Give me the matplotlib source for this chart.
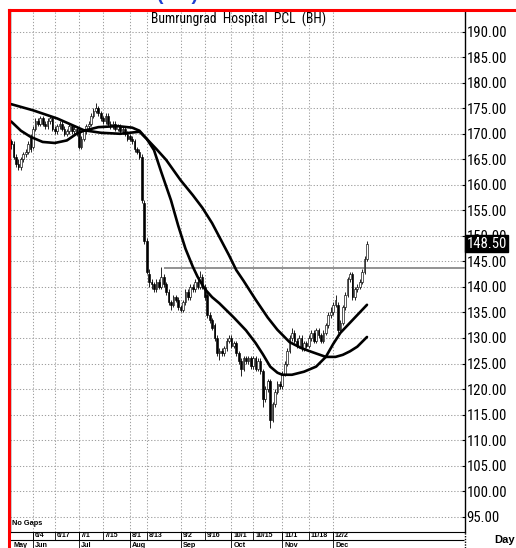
import numpy as np
import pandas as pd
import matplotlib
matplotlib.use('Agg')
import matplotlib.pyplot as plt
from matplotlib import font_manager as fm
from matplotlib.lines import Line2D
import matplotlib.transforms as mtransforms

# ---------------- fonts: look for a narrow sans face ----------------
def _find_narrow():
    prio = ['liberation sans narrow', 'arial narrow', 'roboto condensed',
            'open sans condensed', 'noto sans condensed', 'dejavu sans condensed',
            'dejavu sans']
    found = []
    for f in fm.fontManager.ttflist:
        fn = f.fname.lower()
        nm = f.name.lower()
        if not ('narrow' in fn or 'condensed' in fn or 'narrow' in nm or 'condensed' in nm):
            continue
        if 'mono' in nm or 'serif' in nm.split():
            continue
        if f.style != 'normal' or 'italic' in fn or 'oblique' in fn:
            continue
        w = f.weight if isinstance(f.weight, int) else (700 if 'bold' in str(f.weight) else 400)
        if w != 400 or 'bold' in fn or 'light' in fn or 'medium' in fn or 'semi' in fn.split('/')[-1]:
            continue
        rank = next((i for i, p in enumerate(prio) if p in nm or p.replace(' ', '') in fn.replace('-', '').replace('_', '')), len(prio))
        found.append((rank, f.fname))
    found.sort()
    return found[0][1] if found else None

NARROW_PATH = _find_narrow()
HAS_NARROW = NARROW_PATH is not None

def fprop(size):
    if HAS_NARROW:
        return fm.FontProperties(fname=NARROW_PATH, size=size)
    return fm.FontProperties(family='Liberation Sans', size=size)

# ---------------- data ----------------
title = "Bumrungrad  Hospital  PCL  (BH)"
start_date, end_date = '2019-05-21', '2019-12-24'
holidays = ['2019-06-03', '2019-07-16', '2019-07-29', '2019-08-12',
            '2019-10-14', '2019-10-23', '2019-12-05', '2019-12-10']

tick_dates = ['2019-06-04', '2019-06-17', '2019-07-01', '2019-07-15', '2019-08-01',
              '2019-08-13', '2019-09-02', '2019-09-16', '2019-10-01', '2019-10-15',
              '2019-11-01', '2019-11-18', '2019-12-02']
tick_labels = ['6/4', '6/17', '7/1', '7/15', '8/1', '8/13', '9/2', '9/16',
               '10/1', '10/15', '11/1', '11/18', '12/2']
month_dates = ['2019-05-21', '2019-06-04', '2019-07-01', '2019-08-01',
               '2019-09-02', '2019-10-01', '2019-11-01', '2019-12-02']
month_labels = ['May', 'Jun', 'Jul', 'Aug', 'Sep', 'Oct', 'Nov', 'Dec']

opens = [168.5, 168.0, 165.5, 164.0, 163.5, 165.0, 166.0, 166.5, 169.5, 167.5,
         171.0, 172.5, 172.0, 173.0, 172.0, 171.5, 172.5, 173.0, 171.0, 170.5,
         171.5, 172.0, 171.0, 170.0, 170.5, 171.5, 170.5, 171.0, 171.0, 167.5,
         169.0, 170.5, 171.5, 172.0, 173.5, 174.5, 175.0, 174.0, 173.0, 172.5,
         173.5, 172.0, 171.5, 172.0, 171.0, 171.5, 170.5, 171.0, 170.0, 169.5,
         169.0, 168.5, 167.0, 166.5, 165.5, 156.5, 149.0, 142.5, 141.0, 140.5,
         139.5, 141.0, 140.0, 142.0, 140.5, 139.0, 137.0, 136.5, 138.0, 137.5,
         136.0, 135.5, 137.0, 139.0, 138.0, 140.0, 139.5, 141.0, 140.0, 142.0,
         140.0, 138.5, 134.5, 133.5, 132.5, 130.0, 127.0, 127.5, 127.0, 128.0,
         129.5, 130.0, 128.5, 129.0, 127.0, 125.5, 124.0, 126.0, 125.5, 126.0,
         124.5, 126.0, 124.0, 125.5, 123.5, 118.0, 120.0, 121.5, 114.0, 117.0,
         119.5, 121.0, 120.5, 123.0, 125.0, 127.5, 130.0, 131.0, 129.5, 128.5,
         130.0, 128.0, 129.0, 128.5, 130.0, 131.0, 129.5, 131.5, 130.5, 129.5,
         131.0, 132.5, 134.5, 135.0, 136.5, 136.5, 131.5, 133.0, 136.0, 138.5,
         141.5, 142.5, 138.0, 139.5, 140.0, 141.0, 143.0, 145.5]
highs = [169.0, 168.5, 166.0, 165.0, 165.5, 166.5, 167.0, 168.5, 170.0, 171.5,
         173.0, 173.0, 173.5, 173.5, 172.5, 173.0, 173.5, 173.5, 171.5, 172.0,
         172.5, 172.5, 171.5, 171.0, 172.0, 172.0, 171.5, 171.5, 171.5, 169.5,
         171.0, 172.0, 172.5, 174.0, 175.0, 176.0, 175.5, 174.5, 173.5, 174.0,
         174.0, 172.5, 172.5, 172.5, 172.0, 172.0, 171.5, 171.5, 170.5, 170.0,
         169.5, 169.0, 167.5, 167.0, 166.0, 157.0, 149.5, 143.5, 141.5, 141.0,
         141.5, 141.5, 143.9, 142.5, 141.0, 139.5, 137.5, 138.5, 138.5, 138.0,
         136.5, 137.5, 139.5, 139.5, 140.5, 140.5, 141.5, 141.5, 143.2, 142.5,
         140.5, 139.0, 135.0, 134.0, 133.0, 130.5, 128.0, 128.0, 128.5, 130.0,
         130.5, 130.5, 129.5, 129.5, 127.5, 126.0, 126.5, 126.5, 126.5, 126.5,
         126.5, 126.5, 126.0, 126.0, 124.0, 120.5, 122.0, 122.0, 117.5, 120.0,
         121.5, 121.5, 123.5, 125.5, 128.0, 130.5, 132.0, 131.5, 130.0, 130.5,
         130.5, 129.5, 129.5, 130.5, 131.5, 131.5, 132.0, 132.0, 131.0, 131.5,
         133.0, 135.0, 136.0, 137.0, 138.5, 137.0, 133.5, 136.5, 139.0, 142.0,
         143.0, 143.0, 140.0, 140.5, 141.5, 143.5, 146.0, 149.0]
lows = [167.0, 165.0, 163.5, 163.0, 163.0, 164.5, 165.5, 166.0, 166.5, 167.0,
        170.5, 171.5, 171.5, 171.5, 171.0, 171.0, 172.0, 170.5, 170.0, 170.0,
        171.0, 170.5, 169.5, 169.5, 170.0, 170.0, 170.0, 169.5, 167.0, 167.0,
        168.5, 170.0, 171.0, 171.5, 173.0, 174.0, 173.5, 172.5, 172.0, 172.0,
        171.5, 171.0, 171.0, 170.5, 170.5, 170.0, 170.0, 169.5, 168.5, 168.5,
        168.0, 166.5, 166.0, 165.0, 156.5, 148.5, 142.5, 140.0, 139.5, 139.0,
        139.0, 139.5, 139.5, 140.0, 138.5, 136.5, 135.5, 136.0, 137.0, 135.5,
        135.0, 135.0, 136.5, 137.5, 137.5, 139.0, 139.0, 139.5, 139.5, 139.5,
        137.5, 134.0, 133.0, 131.5, 129.5, 126.5, 125.7, 126.5, 126.5, 127.5,
        129.0, 128.0, 128.0, 126.5, 125.0, 122.5, 123.5, 125.0, 125.0, 124.0,
        124.0, 123.5, 123.5, 123.0, 116.5, 117.5, 119.5, 112.3, 113.5, 116.5,
        119.0, 120.0, 120.0, 122.5, 124.5, 127.0, 129.5, 129.0, 128.0, 128.0,
        127.5, 127.5, 128.0, 128.0, 129.5, 129.0, 129.0, 130.0, 129.0, 129.0,
        130.5, 132.0, 134.0, 134.5, 136.0, 131.0, 131.0, 132.5, 135.5, 138.0,
        141.0, 137.5, 137.5, 139.0, 139.5, 140.5, 142.5, 145.0]
closes = [168.0, 165.5, 164.0, 163.5, 165.0, 166.0, 166.5, 168.0, 167.0, 171.0,
          172.5, 172.0, 173.0, 172.0, 171.5, 172.5, 173.0, 171.0, 170.5, 171.5,
          172.0, 171.0, 170.0, 170.5, 171.5, 170.5, 171.0, 170.0, 167.5, 169.0,
          170.5, 171.5, 172.0, 173.5, 174.5, 175.0, 174.0, 173.0, 172.5, 173.5,
          172.0, 171.5, 172.0, 171.0, 171.5, 170.5, 171.0, 170.0, 169.0, 169.0,
          168.5, 167.0, 166.5, 165.5, 157.0, 149.0, 143.0, 141.0, 140.5, 139.5,
          141.0, 140.0, 142.0, 140.5, 139.0, 137.0, 136.5, 138.0, 137.5, 136.0,
          135.5, 137.0, 139.0, 138.0, 140.0, 139.5, 141.0, 140.0, 142.0, 140.0,
          138.0, 134.5, 133.5, 132.0, 130.0, 127.0, 127.5, 127.0, 128.0, 129.5,
          130.0, 128.5, 129.0, 127.0, 125.5, 124.0, 126.0, 125.5, 126.0, 124.5,
          126.0, 124.0, 125.5, 123.5, 118.0, 120.0, 121.5, 114.0, 117.0, 119.5,
          121.0, 120.5, 123.0, 125.0, 127.5, 130.0, 131.0, 129.5, 128.5, 130.0,
          128.0, 129.0, 128.5, 130.0, 131.0, 129.5, 131.5, 130.5, 129.5, 131.0,
          132.5, 134.5, 135.0, 136.5, 137.5, 131.5, 133.0, 136.0, 138.5, 141.5,
          142.5, 138.0, 139.5, 140.0, 141.0, 143.0, 145.5, 148.5]

# moving averages read at selected bars (bar index, value)
ma_fast_idx = [0, 4, 8, 13, 18, 23, 27, 30, 36, 44, 50, 53, 56, 59, 62, 66, 69, 72,
               75, 77, 80, 83, 86, 92, 97, 101, 104, 107, 110, 112, 116, 121, 126,
               130, 133, 136, 141, 144, 147]
ma_fast_val = [172.4, 170.6, 169.4, 168.4, 168.2, 168.7, 170.0, 170.6, 171.3, 171.5,
               171.2, 170.6, 169.0, 166.8, 162.5, 157.0, 152.0, 147.5, 144.0, 142.0,
               139.6, 138.0, 136.8, 134.0, 131.5, 129.0, 126.8, 124.4, 123.2, 122.8,
               122.8, 123.4, 124.4, 126.3, 128.8, 131.0, 133.5, 135.0, 136.5]
ma_slow_idx = [0, 9, 19, 30, 37, 45, 53, 56, 60, 64, 70, 75, 79, 83, 86, 90, 93, 96,
               101, 106, 110, 115, 120, 124, 130, 134, 137, 140, 143, 147]
ma_slow_val = [175.8, 174.6, 173.0, 170.7, 170.2, 170.0, 170.4, 169.0, 167.0, 164.9,
               160.9, 158.0, 155.5, 152.5, 149.8, 146.2, 143.3, 141.2, 137.5, 134.0,
               131.6, 129.2, 128.0, 127.3, 126.3, 126.3, 126.7, 127.4, 128.3, 130.2]

hline_level = 143.8
hline_start_date = '2019-08-22'
last_price = 148.50
y_ticks = list(range(95, 191, 5))

# ---------------- build ----------------
dates = pd.bdate_range(start_date, end_date)
dates = dates[~dates.isin(pd.to_datetime(holidays))]
x = np.arange(len(dates))
tick_pos = dates.get_indexer(pd.to_datetime(tick_dates))
month_pos = dates.get_indexer(pd.to_datetime(month_dates))
hline_start = dates.get_indexer(pd.to_datetime([hline_start_date]))[0]

W, H = 516, 548
fig = plt.figure(figsize=(W / 100, H / 100), dpi=100)
L_px, R_px, T_px, B_px = 10, 465, 11, 532
ax = fig.add_axes([L_px / W, 1 - B_px / H, (R_px - L_px) / W, (B_px - T_px) / H])
ax.set_xlim(-0.5, 187.5)
ax.set_ylim(92.0, 194.05)

# grid
grid_kw = dict(color='#a0a0a0', linewidth=0.75, linestyle=(0, (1.2, 1.8)))
ax.set_xticks(tick_pos)
ax.set_yticks(y_ticks)
ax.grid(True, **grid_kw)
ax.set_axisbelow(True)
ax.tick_params(axis='x', length=0, labelbottom=False)
ax.yaxis.tick_right()
ytick_size = 10.6 if HAS_NARROW else 8.6
ax.tick_params(axis='y', direction='in', length=2, pad=1.2,
               colors='black', labelleft=False, labelright=True)
ax.set_yticklabels([f"{v:.2f}" for v in y_ticks])
for lab in ax.get_yticklabels():
    lab.set_fontproperties(fprop(ytick_size))

ax.spines['top'].set_visible(False)
ax.spines['right'].set_linestyle((0, (1, 1)))
ax.spines['right'].set_linewidth(1.0)
ax.spines['left'].set_linestyle((0, (1, 1)))
ax.spines['left'].set_linewidth(1.0)
ax.spines['bottom'].set_linewidth(0.8)

# candlesticks
o = np.array(opens); c = np.array(closes); hi = np.array(highs); lo = np.array(lows)
up = c >= o
ax.vlines(x, lo, hi, color='black', linewidth=0.6, zorder=3)
body_lo = np.minimum(o, c)
body_h = np.maximum(np.abs(c - o), 0.15)
ax.bar(x[up], body_h[up], bottom=body_lo[up], width=0.7, facecolor='white',
       edgecolor='black', linewidth=0.45, zorder=4)
ax.bar(x[~up], body_h[~up], bottom=body_lo[~up], width=0.7, facecolor='black',
       edgecolor='black', linewidth=0.45, zorder=4)

# moving averages
ax.plot(ma_slow_idx, ma_slow_val, color='black', linewidth=1.9, zorder=5,
        solid_capstyle='round', solid_joinstyle='round')
ax.plot(ma_fast_idx, ma_fast_val, color='black', linewidth=1.9, zorder=5,
        solid_capstyle='round', solid_joinstyle='round')

# horizontal level line
ax.hlines(hline_level, hline_start, 187.3, color='#8a8a8a', linewidth=1.3, zorder=2.6)

# title
ax.text(0.503, 0.998, title, transform=ax.transAxes, ha='center', va='top',
        fontproperties=fprop(9.8 if HAS_NARROW else 9), zorder=6)

# last price box
trans = mtransforms.blended_transform_factory(ax.transAxes, ax.transData)
ax.text(1.003, last_price, f"{last_price:.2f}", transform=trans, ha='left', va='center',
        fontproperties=fprop(ytick_size), color='white', clip_on=False, zorder=20,
        bbox=dict(boxstyle='square,pad=0.1', facecolor='black', edgecolor='black'))

# No Gaps
ax.text(0.005, 0.01, "No Gaps", transform=ax.transAxes, ha='left', va='bottom',
        fontsize=5.3, fontweight='bold', family='Liberation Sans', zorder=6)

# date strip axis
ax2 = fig.add_axes([L_px / W, 0, (R_px - L_px) / W, (H - B_px) / H], sharex=ax)
ax2.set_ylim(0, 16)
ax2.axis('off')
ax2.hlines([8.2], -0.5, 187.0, color='black', linewidth=0.8)
ax2.vlines(tick_pos, 8.2, 16, color='black', linewidth=0.6)
ax2.vlines(month_pos[1:], 0, 16, color='black', linewidth=0.6)
for p, lab in zip(tick_pos, tick_labels):
    ax2.text(p + 0.8, 12.2, lab, ha='left', va='center', fontsize=5,
             fontweight='bold', family='Liberation Sans')
for p, lab in zip(month_pos, month_labels):
    ax2.text(p + 0.8, 5.8, lab, ha='left', va='top', fontsize=5.2,
             fontweight='bold', family='Liberation Sans')
ax2.plot([187.5, 187.5], [0, 16], color='black', linewidth=1.0,
         linestyle=(0, (1, 1)), clip_on=False)

# "Day"
fig.text(505 / W, 1 - 540 / H, "Day", ha='center', va='center', fontsize=8,
         fontweight='bold', family='Liberation Sans')

# red frame and clipped blue heading
fig.add_artist(Line2D([8.5 / W, 1.0], [1 - 10 / H, 1 - 10 / H], color='#ff0000',
                      linewidth=2.2, transform=fig.transFigure))
fig.add_artist(Line2D([8.5 / W, 8.5 / W], [0, 1 - 10 / H], color='#ff0000',
                      linewidth=2.2, transform=fig.transFigure))
fig.text(177 / W, 1.0, "(BH)", ha='center', va='baseline', fontsize=14,
         fontweight='bold', color='#1f3fd0', family='Liberation Sans')

fig.savefig('out.png', dpi=100)
